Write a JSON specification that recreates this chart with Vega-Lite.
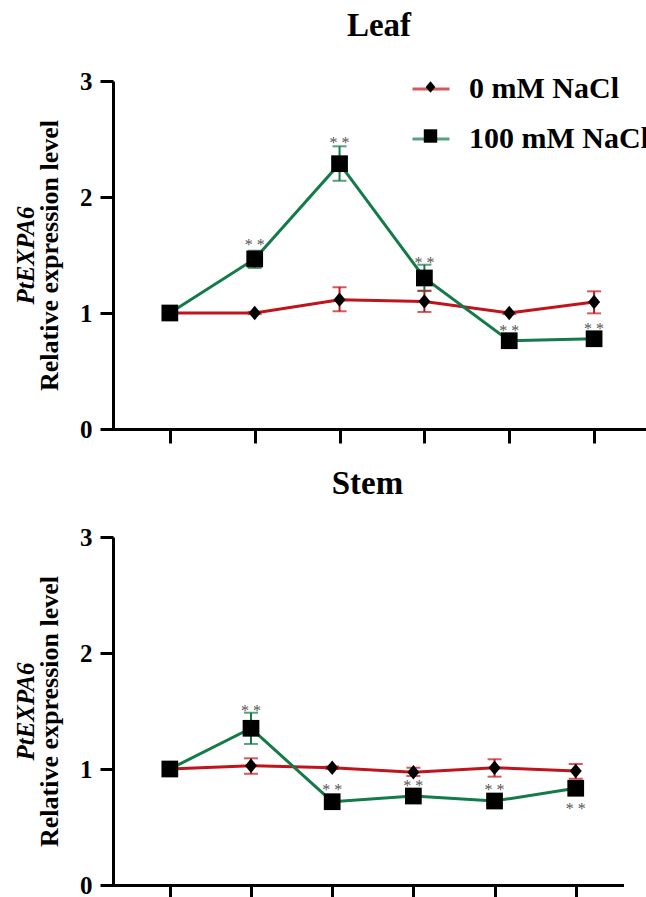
{
  "$schema": "https://vega.github.io/schema/vega-lite/v6.json",
  "padding": {"left": 13, "top": 10, "right": 0, "bottom": 0},
  "config": {
    "view": {"stroke": null},
    "font": "Liberation Serif, Times New Roman, serif",
    "title": {"font": "Liberation Serif, Times New Roman, serif", "fontSize": 33, "fontWeight": "bold", "color": "black", "frame": "group", "anchor": "middle", "offset": 26}
  },
  "datasets": {
    "leaf": [
      {"time": 1, "treatment": "0 mM NaCl", "group": "0 mM NaCl", "mean": 1.0, "lo": 1.0, "hi": 1.0, "star": null, "sig": null},
      {"time": 2, "treatment": "0 mM NaCl", "group": "0 mM NaCl", "mean": 1.0, "lo": 0.99, "hi": 1.01, "star": null, "sig": null},
      {"time": 3, "treatment": "0 mM NaCl", "group": "0 mM NaCl", "mean": 1.115, "lo": 1.015, "hi": 1.222, "star": null, "sig": null},
      {"time": 4, "treatment": "0 mM NaCl", "group": "0 mM NaCl", "mean": 1.1, "lo": 1.009, "hi": 1.192, "star": null, "sig": null},
      {"time": 5, "treatment": "0 mM NaCl", "group": "0 mM NaCl", "mean": 1.0, "lo": 0.99, "hi": 1.01, "star": null, "sig": null},
      {"time": 6, "treatment": "0 mM NaCl", "group": "0 mM NaCl", "mean": 1.095, "lo": 0.997, "hi": 1.187, "star": null, "sig": null},
      {"time": 1, "treatment": "100 mM NaCl", "group": "100 mM NaCl", "mean": 1.0, "lo": 1.0, "hi": 1.0, "star": null, "sig": null},
      {"time": 2, "treatment": "100 mM NaCl", "group": "100 mM NaCl", "mean": 1.466, "lo": 1.388, "hi": 1.537, "star": 1.61, "sig": "* *"},
      {"time": 3, "treatment": "100 mM NaCl", "group": "100 mM NaCl", "mean": 2.287, "lo": 2.14, "hi": 2.437, "star": 2.49, "sig": "* *"},
      {"time": 4, "treatment": "100 mM NaCl", "group": "100 mM NaCl", "mean": 1.302, "lo": 1.19, "hi": 1.416, "star": 1.454, "sig": "* *"},
      {"time": 5, "treatment": "100 mM NaCl", "group": "100 mM NaCl", "mean": 0.761, "lo": 0.745, "hi": 0.775, "star": 0.87, "sig": "* *"},
      {"time": 6, "treatment": "100 mM NaCl", "group": "100 mM NaCl", "mean": 0.778, "lo": 0.765, "hi": 0.79, "star": 0.89, "sig": "* *"}
    ],
    "stem": [
      {"time": 1, "treatment": "0 mM NaCl", "group": "0 mM NaCl", "mean": 1.0, "lo": 1.0, "hi": 1.0, "star": null, "sig": null},
      {"time": 2, "treatment": "0 mM NaCl", "group": "0 mM NaCl", "mean": 1.028, "lo": 0.959, "hi": 1.092, "star": null, "sig": null},
      {"time": 3, "treatment": "0 mM NaCl", "group": "0 mM NaCl", "mean": 1.011, "lo": 1.0, "hi": 1.022, "star": null, "sig": null},
      {"time": 4, "treatment": "0 mM NaCl", "group": "0 mM NaCl", "mean": 0.972, "lo": 0.94, "hi": 1.011, "star": null, "sig": null},
      {"time": 5, "treatment": "0 mM NaCl", "group": "0 mM NaCl", "mean": 1.011, "lo": 0.934, "hi": 1.084, "star": null, "sig": null},
      {"time": 6, "treatment": "0 mM NaCl", "group": "0 mM NaCl", "mean": 0.983, "lo": 0.916, "hi": 1.043, "star": null, "sig": null},
      {"time": 1, "treatment": "100 mM NaCl", "group": "100 mM NaCl", "mean": 1.0, "lo": 1.0, "hi": 1.0, "star": null, "sig": null},
      {"time": 2, "treatment": "100 mM NaCl", "group": "100 mM NaCl", "mean": 1.351, "lo": 1.216, "hi": 1.485, "star": 1.53, "sig": "* *"},
      {"time": 3, "treatment": "100 mM NaCl", "group": "100 mM NaCl", "mean": 0.718, "lo": 0.7, "hi": 0.735, "star": 0.842, "sig": "* *"},
      {"time": 4, "treatment": "100 mM NaCl", "group": "100 mM NaCl", "mean": 0.767, "lo": 0.75, "hi": 0.78, "star": 0.877, "sig": "* *"},
      {"time": 5, "treatment": "100 mM NaCl", "group": "100 mM NaCl", "mean": 0.724, "lo": 0.71, "hi": 0.74, "star": 0.847, "sig": "* *"},
      {"time": 6, "treatment": "100 mM NaCl", "group": "100 mM NaCl", "mean": 0.834, "lo": 0.82, "hi": 0.85, "star": 0.68, "sig": "* *"}
    ]
  },
  "spacing": 23,
  "resolve": {
    "scale": {"color": "independent", "shape": "independent"},
    "legend": {"color": "independent", "shape": "independent"}
  },
  "vconcat": [
    {
      "title": "Leaf",
      "width": 532,
      "height": 348,
      "data": {"name": "leaf"},
      "encoding": {
        "x": {"field": "time", "type": "quantitative", "scale": {"domain": [0.33, 6.6], "nice": false, "zero": false},
              "axis": {"values": [1, 2, 3, 4, 5, 6], "labels": false, "title": null, "grid": false, "tickSize": 14, "tickWidth": 3, "domainWidth": 3, "domainColor": "black", "tickColor": "black", "domainCap": "square"}}
      },
      "resolve": {"axis": {"y": "independent"}},
      "layer": [
        {
          "mark": {"type": "line", "strokeWidth": 3},
          "encoding": {
            "y": {"field": "mean", "type": "quantitative", "scale": {"domain": [0, 3], "nice": false},
                  "axis": {"orient": "left", "values": [0, 1, 2, 3], "grid": false, "tickSize": 13, "tickWidth": 3, "domainWidth": 3, "domainColor": "black", "tickColor": "black", "labelFontSize": 25, "labelFontWeight": "bold", "labelColor": "black", "labelPadding": 8, "title": "Relative expression level", "titleFontSize": 26, "titleFontWeight": "bold", "titleColor": "black", "titlePadding": 17}},
            "color": {"field": "treatment", "type": "nominal", "scale": {"domain": ["0 mM NaCl", "100 mM NaCl"], "range": ["#c0141c", "#137a4a"]},
                      "legend": {"orient": "none", "legendX": 298, "legendY": -12, "title": null, "symbolType": "stroke", "symbolSize": 1369, "symbolStrokeWidth": 3, "labelFontSize": 30, "labelFontWeight": "bold", "labelColor": "black", "labelLimit": 400, "labelOffset": 18, "rowPadding": 15, "padding": 0}}
          }
        },
        {
          "mark": {"type": "errorbar", "thickness": 2, "ticks": {"size": 14, "thickness": 2}},
          "encoding": {
            "y": {"field": "lo", "type": "quantitative", "scale": {"domain": [0, 3], "nice": false}, "axis": null},
            "y2": {"field": "hi"},
            "color": {"field": "treatment", "type": "nominal", "scale": {"domain": ["0 mM NaCl", "100 mM NaCl"], "range": ["#c0141c", "#137a4a"]}}
          }
        },
        {
          "mark": {"type": "point", "filled": true, "opacity": 1, "size": 280, "color": "black"},
          "encoding": {
            "y": {"field": "mean", "type": "quantitative", "scale": {"domain": [0, 3], "nice": false}, "axis": null},
            "shape": {"field": "group", "type": "nominal", "scale": {"range": ["M-0.72,0L0,-0.86L0.72,0L0,0.86Z", "square"]},
                      "legend": {"orient": "none", "legendX": 303.5, "legendY": -8, "title": null, "symbolSize": 180, "symbolFillColor": "black", "symbolStrokeWidth": 0, "symbolOpacity": 1, "labelFontSize": 28, "labelFontWeight": "bold", "labelExpr": "''", "labelLimit": 400, "labelOffset": 18, "rowPadding": 21, "padding": 0}}
          }
        },
        {
          "transform": [{"filter": "datum.star != null"}],
          "mark": {"type": "text", "fontSize": 16, "color": "#555555", "baseline": "alphabetic", "dy": 8},
          "encoding": {
            "y": {"field": "star", "type": "quantitative", "scale": {"domain": [0, 3], "nice": false},
                  "axis": {"orient": "left", "domain": false, "ticks": false, "labels": false, "grid": false, "title": "PtEXPA6", "titleFontSize": 25, "titleFontWeight": "bold", "titleFontStyle": "italic", "titleColor": "black", "titlePadding": 75}},
            "text": {"field": "sig"}
          }
        }
      ]
    },
    {
      "title": {"text": "Stem", "offset": 24},
      "width": 509,
      "height": 348,
      "data": {"name": "stem"},
      "encoding": {
        "x": {"field": "time", "type": "quantitative", "scale": {"domain": [0.3, 6.57], "nice": false, "zero": false},
              "axis": {"values": [1, 2, 3, 4, 5, 6], "labels": false, "title": null, "grid": false, "tickSize": 14, "tickWidth": 3, "domainWidth": 3, "domainColor": "black", "tickColor": "black", "domainCap": "square"}}
      },
      "resolve": {"axis": {"y": "independent"}},
      "layer": [
        {
          "mark": {"type": "line", "strokeWidth": 3},
          "encoding": {
            "y": {"field": "mean", "type": "quantitative", "scale": {"domain": [0, 3], "nice": false},
                  "axis": {"orient": "left", "values": [0, 1, 2, 3], "grid": false, "tickSize": 13, "tickWidth": 3, "domainWidth": 3, "domainColor": "black", "tickColor": "black", "labelFontSize": 25, "labelFontWeight": "bold", "labelColor": "black", "labelPadding": 8, "title": "Relative expression level", "titleFontSize": 26, "titleFontWeight": "bold", "titleColor": "black", "titlePadding": 17}},
            "color": {"field": "treatment", "type": "nominal", "scale": {"domain": ["0 mM NaCl", "100 mM NaCl"], "range": ["#c0141c", "#137a4a"]}, "legend": null}
          }
        },
        {
          "mark": {"type": "errorbar", "thickness": 2, "ticks": {"size": 14, "thickness": 2}},
          "encoding": {
            "y": {"field": "lo", "type": "quantitative", "scale": {"domain": [0, 3], "nice": false}, "axis": null},
            "y2": {"field": "hi"},
            "color": {"field": "treatment", "type": "nominal", "scale": {"domain": ["0 mM NaCl", "100 mM NaCl"], "range": ["#c0141c", "#137a4a"]}, "legend": null}
          }
        },
        {
          "mark": {"type": "point", "filled": true, "opacity": 1, "size": 280, "color": "black"},
          "encoding": {
            "y": {"field": "mean", "type": "quantitative", "scale": {"domain": [0, 3], "nice": false}, "axis": null},
            "shape": {"field": "group", "type": "nominal", "scale": {"range": ["M-0.72,0L0,-0.86L0.72,0L0,0.86Z", "square"]}, "legend": null}
          }
        },
        {
          "transform": [{"filter": "datum.star != null"}],
          "mark": {"type": "text", "fontSize": 16, "color": "#555555", "baseline": "alphabetic", "dy": 8},
          "encoding": {
            "y": {"field": "star", "type": "quantitative", "scale": {"domain": [0, 3], "nice": false},
                  "axis": {"orient": "left", "domain": false, "ticks": false, "labels": false, "grid": false, "title": "PtEXPA6", "titleFontSize": 25, "titleFontWeight": "bold", "titleFontStyle": "italic", "titleColor": "black", "titlePadding": 75}},
            "text": {"field": "sig"}
          }
        }
      ]
    }
  ]
}
